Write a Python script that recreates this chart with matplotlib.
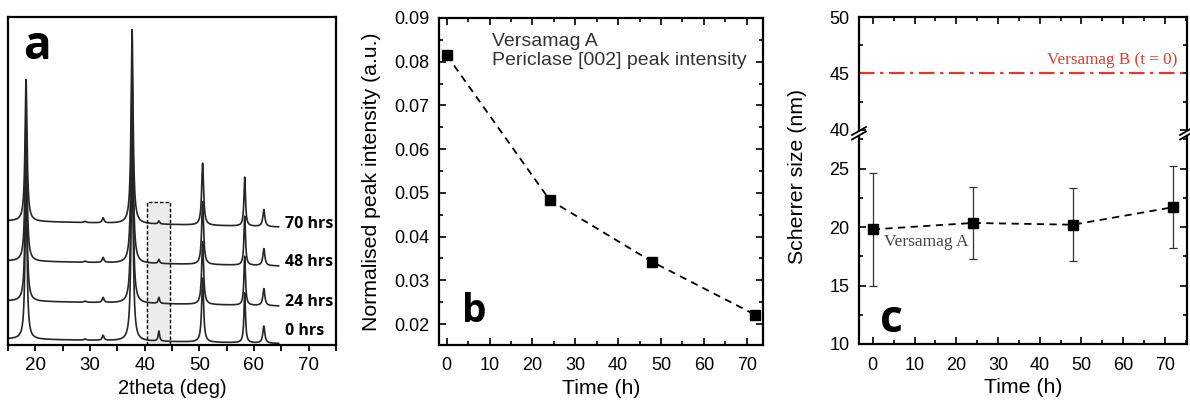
import numpy as np
import matplotlib
matplotlib.use("Agg")
import matplotlib.pyplot as plt
from matplotlib.ticker import MultipleLocator

plt.rcParams["font.family"] = ["Liberation Sans", "DejaVu Sans"]

# ─────────────────────────────────────────────
# Data
# ─────────────────────────────────────────────
# (a) XRD patterns: peak positions (2theta), widths, heights per trace
peak_pos = [18.3, 29.1, 32.4, 37.7, 42.6, 50.6, 58.3, 61.8]
peak_hwhm = [0.22, 0.2, 0.2, 0.22, 0.16, 0.21, 0.17, 0.22]
trace_labels = ["0 hrs", "24 hrs", "48 hrs", "70 hrs"]
trace_base_right = [1.5, 39, 79, 118]      # baseline at the right end
trace_tilt = [4.5, 5, 5, 6]                # extra baseline at 15 deg
label_y = [14, 43, 82.5, 121]
trace_heights = [
    [150, 1.2, 5, 200, 10, 64, 50, 17],   # 0 hrs
    [142, 1.2, 5, 194, 6, 63, 49, 17],    # 24 hrs
    [142, 1.2, 5, 194, 4, 63, 49, 17],    # 48 hrs
    [142, 1.2, 5, 194, 3, 62, 49, 17],    # 70 hrs
]
box_x = [40.5, 44.7]
box_top = 143

# (b) periclase [002] peak intensity
time_b = [0, 24, 48, 72]
intensity_b = [0.0815, 0.0484, 0.0342, 0.0221]

# (c) Scherrer size
time_c = [0, 24, 48, 72]
size_c = [19.8, 20.35, 20.2, 21.7]
err_c = [4.8, 3.1, 3.1, 3.5]
versamag_b = 45.0

W, H = 1190, 401
fig = plt.figure(figsize=(W / 100, H / 100), dpi=100)

def px_axes(left, right, top, bottom):
    return fig.add_axes([left / W, (H - bottom) / H, (right - left) / W, (bottom - top) / H])

BOLD = ["Open Sans", "DejaVu Sans"]

# ─────────────────────────────────────────────
# Panel a
# ─────────────────────────────────────────────
ax_a = px_axes(8, 336, 17, 345)
tt = np.linspace(15, 64.5, 4000)
for lab, base, tilt, ly, hts in zip(trace_labels, trace_base_right, trace_tilt, label_y, trace_heights):
    y = base + tilt * (64.5 - tt) / 49.5
    for p, g, h in zip(peak_pos, peak_hwhm, hts):
        y = y + h / (1 + ((tt - p) / g) ** 2)
    ax_a.plot(tt, y, color="#262626", lw=1.2)
    ax_a.text(65.6, ly, lab, fontsize=11.5, fontweight="bold", family=BOLD,
              va="center", ha="left")

ax_a.fill_between(box_x, 0, box_top, color="#ececec", zorder=0)
ax_a.plot([box_x[0], box_x[0], box_x[1], box_x[1]], [0, box_top, box_top, 0],
          color="black", ls=(0, (2.5, 1.5)), lw=1.0)

ax_a.set_xlim(15, 75)
ax_a.set_ylim(0, 328)
ax_a.set_yticks([])
ax_a.xaxis.set_major_locator(MultipleLocator(10))
ax_a.xaxis.set_minor_locator(MultipleLocator(5))
ax_a.tick_params(axis="x", which="both", direction="out", length=4, width=1.3,
                 labelsize=13.5, pad=5)
ax_a.set_xlabel("2theta (deg)", fontsize=14.5, labelpad=3)
ax_a.text(0.045, 0.873, "a", transform=ax_a.transAxes, fontsize=33, fontweight="bold",
          family=BOLD, va="baseline", ha="left")
for s in ax_a.spines.values():
    s.set_linewidth(1.6)

# ─────────────────────────────────────────────
# Panel b
# ─────────────────────────────────────────────
ax_b = px_axes(439, 763, 18, 345)
ax_b.plot(time_b, intensity_b, color="black", ls=(0, (4, 3)), lw=1.3,
          marker="s", ms=7, mfc="black", mec="black")
ax_b.set_xlim(-1.8, 73.8)
ax_b.set_ylim(0.0152, 0.09)
ax_b.xaxis.set_major_locator(MultipleLocator(10))
ax_b.xaxis.set_minor_locator(MultipleLocator(5))
ax_b.yaxis.set_major_locator(MultipleLocator(0.01))
ax_b.yaxis.set_minor_locator(MultipleLocator(0.005))
ax_b.tick_params(which="both", direction="in", top=True, right=True, width=1.2, labelsize=13)
ax_b.tick_params(which="major", length=5)
ax_b.tick_params(which="minor", length=3)
ax_b.tick_params(axis="x", pad=9)
ax_b.tick_params(axis="y", pad=7)
ax_b.set_xlabel("Time (h)", fontsize=15.3, labelpad=3)
ax_b.set_ylabel("Normalised peak intensity (a.u.)", fontsize=15.3)
ax_b.yaxis.set_label_coords(-0.18, 0.5)
ax_b.text(0.164, 0.955, "Versamag A\nPericlase [002] peak intensity", transform=ax_b.transAxes,
          fontsize=14, color="#333333", va="top", ha="left", linespacing=1.2)
ax_b.text(0.071, 0.071, "b", transform=ax_b.transAxes, fontsize=28, fontweight="bold",
          family=BOLD, va="baseline", ha="left")
for s in ax_b.spines.values():
    s.set_linewidth(1.6)

# ─────────────────────────────────────────────
# Panel c (broken y axis)
# ─────────────────────────────────────────────
ax_cu = px_axes(859, 1187, 17, 130)
ax_cl = px_axes(859, 1187, 137, 344)

ax_cl.errorbar(time_c, size_c, yerr=err_c, color="black", ls=(0, (4, 3)), lw=1.3,
               marker="s", ms=7, ecolor="#333333", elinewidth=0.9, capsize=3, capthick=0.9)
ax_cu.axhline(versamag_b, color="#e03a2f", ls=(0, (7, 2.5, 1.5, 2.5)), lw=1.6)
ax_cu.text(73.0, 45.5, "Versamag B (t = 0)", color="#e03a2f", fontsize=12.3,
           family=["Liberation Serif", "DejaVu Serif"], ha="right", va="bottom")
ax_cl.text(2.7, 18.7, "Versamag A", color="#444444", fontsize=12.5,
           family=["Liberation Serif", "DejaVu Serif"], ha="left", va="center")

for ax in (ax_cu, ax_cl):
    ax.set_xlim(-3.3, 75.3)
    ax.xaxis.set_major_locator(MultipleLocator(10))
    ax.xaxis.set_minor_locator(MultipleLocator(5))
    ax.yaxis.set_major_locator(MultipleLocator(5))
    ax.yaxis.set_minor_locator(MultipleLocator(2.5))
    ax.tick_params(which="both", direction="in", right=True, width=1.2, labelsize=13)
    ax.tick_params(which="major", length=5)
    ax.tick_params(which="minor", length=3)
    ax.tick_params(axis="y", pad=7)
    for s in ax.spines.values():
        s.set_linewidth(1.6)

ax_cu.set_ylim(40, 50)
ax_cl.set_ylim(10, 27.7)
ax_cu.spines["bottom"].set_visible(False)
ax_cl.spines["top"].set_visible(False)
ax_cu.tick_params(axis="x", which="both", top=True, bottom=False, labelbottom=False)
ax_cl.tick_params(axis="x", which="both", top=False, pad=9)
ax_cl.set_xlabel("Time (h)", fontsize=15.3, labelpad=3)
fig.text(798 / W, (H - 176) / H, "Scherrer size (nm)", rotation=90,
         fontsize=15.3, va="center", ha="center")
ax_cl.text(0.064, 0.058, "c", transform=ax_cl.transAxes, fontsize=32, fontweight="bold",
           family=BOLD, va="baseline", ha="left")

# break marks
dx, dy = 7 / 328, 4 / 207
for xa in (0, 1):
    for yo in (1 + 1.5 / 207, 1 + 6 / 207):
        ax_cl.plot([xa - dx, xa + dx], [yo - dy, yo + dy], transform=ax_cl.transAxes,
                   color="black", lw=1.3, clip_on=False)

plt.savefig("out.png", dpi=100)
